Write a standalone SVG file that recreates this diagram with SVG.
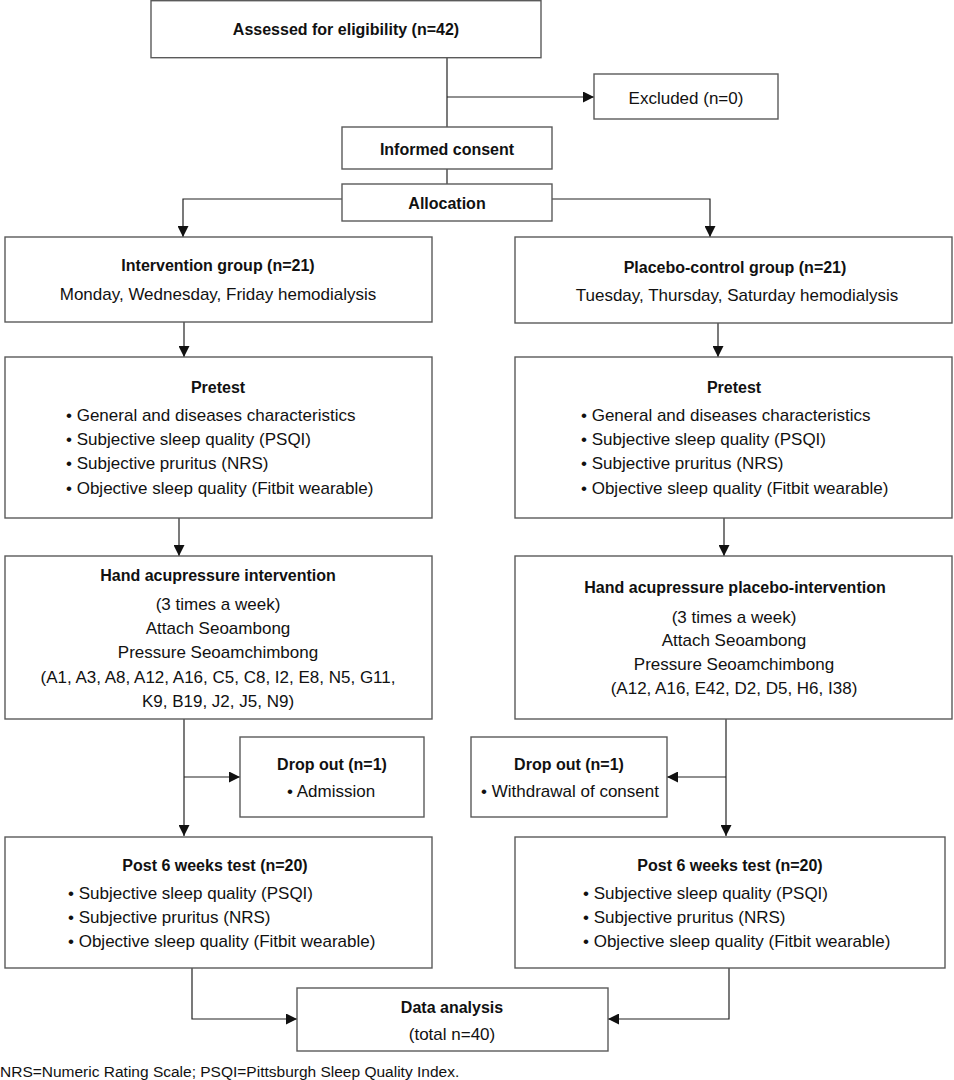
<svg xmlns="http://www.w3.org/2000/svg" width="954" height="1080" viewBox="0 0 954 1080">
<style>
  .box { fill: #ffffff; stroke: #5a5a5a; stroke-width: 1.4; }
  .t { font-family: "Liberation Sans", Arial, sans-serif; font-size: 17px; fill: #111; }
  .b { font-family: "Liberation Sans", Arial, sans-serif; font-size: 16px; font-weight: bold; fill: #111; }
  .c { text-anchor: middle; }
  .fn { font-family: "Liberation Sans", Arial, sans-serif; font-size: 15.5px; fill: #111; }
  .ln { fill: none; stroke: #222; stroke-width: 1.2; }
</style>
<defs>
  <marker id="ah" viewBox="0 0 10 10" refX="10" refY="5" markerWidth="11" markerHeight="11" markerUnits="userSpaceOnUse" orient="auto">
    <path d="M0,0 L10,5 L0,10 z" fill="#111"/>
  </marker>
</defs>
<rect width="954" height="1080" fill="#ffffff"/>

<g id="connectors">
  <path class="ln" d="M447,57 V127"/>
  <path class="ln" d="M447,97 H594" marker-end="url(#ah)"/>
  <path class="ln" d="M447,169 V184"/>
  <path class="ln" d="M342,199 H183 V237" marker-end="url(#ah)"/>
  <path class="ln" d="M552,199 H710 V237" marker-end="url(#ah)"/>
  <path class="ln" d="M184,322 V357" marker-end="url(#ah)"/>
  <path class="ln" d="M718,323 V357" marker-end="url(#ah)"/>
  <path class="ln" d="M179,518 V556" marker-end="url(#ah)"/>
  <path class="ln" d="M724,518 V556" marker-end="url(#ah)"/>
  <path class="ln" d="M184,719 V836" marker-end="url(#ah)"/>
  <path class="ln" d="M184,777 H240" marker-end="url(#ah)"/>
  <path class="ln" d="M726,719 V836" marker-end="url(#ah)"/>
  <path class="ln" d="M726,777 H667" marker-end="url(#ah)"/>
  <path class="ln" d="M192,968 V1019 H297" marker-end="url(#ah)"/>
  <path class="ln" d="M729,968 V1019 H608" marker-end="url(#ah)"/>
</g>

<g id="assessed">
  <rect class="box" x="151" y="0.7" width="390" height="57"/>
  <text class="b c" x="346" y="35">Assessed for eligibility (n=42)</text>
</g>
<g id="excluded">
  <rect class="box" x="594" y="74" width="184" height="45"/>
  <text class="t c" x="686" y="104">Excluded (n=0)</text>
</g>
<g id="consent">
  <rect class="box" x="342" y="127" width="210" height="42"/>
  <text class="b c" x="447" y="155">Informed consent</text>
</g>
<g id="allocation">
  <rect class="box" x="342" y="184" width="210" height="37"/>
  <text class="b c" x="447" y="209">Allocation</text>
</g>

<g id="intervention-group">
  <rect class="box" x="5" y="237" width="427" height="85"/>
  <text class="b c" x="218" y="271">Intervention group (n=21)</text>
  <text class="t c" x="218" y="300">Monday, Wednesday, Friday hemodialysis</text>
</g>
<g id="placebo-group">
  <rect class="box" x="515" y="237" width="437" height="86"/>
  <text class="b c" x="735" y="273">Placebo-control group (n=21)</text>
  <text class="t c" x="737" y="301">Tuesday, Thursday, Saturday hemodialysis</text>
</g>

<g id="pretest-left">
  <rect class="box" x="5" y="357" width="427" height="161"/>
  <text class="b c" x="218" y="393">Pretest</text>
  <text class="t" x="66" y="421">• General and diseases characteristics</text>
  <text class="t" x="66" y="445">• Subjective sleep quality (PSQI)</text>
  <text class="t" x="66" y="469">• Subjective pruritus (NRS)</text>
  <text class="t" x="66" y="494">• Objective sleep quality (Fitbit wearable)</text>
</g>
<g id="pretest-right">
  <rect class="box" x="515" y="357" width="437" height="161"/>
  <text class="b c" x="734" y="393">Pretest</text>
  <text class="t" x="581" y="421">• General and diseases characteristics</text>
  <text class="t" x="581" y="445">• Subjective sleep quality (PSQI)</text>
  <text class="t" x="581" y="469">• Subjective pruritus (NRS)</text>
  <text class="t" x="581" y="494">• Objective sleep quality (Fitbit wearable)</text>
</g>

<g id="intervention">
  <rect class="box" x="5" y="556" width="427" height="163"/>
  <text class="b c" x="218" y="581">Hand acupressure intervention</text>
  <text class="t c" x="218" y="610">(3 times a week)</text>
  <text class="t c" x="218" y="634">Attach Seoambong</text>
  <text class="t c" x="218" y="658">Pressure Seoamchimbong</text>
  <text class="t c" x="218" y="683">(A1, A3, A8, A12, A16, C5, C8, I2, E8, N5, G11,</text>
  <text class="t c" x="218" y="707">K9, B19, J2, J5, N9)</text>
</g>
<g id="placebo-intervention">
  <rect class="box" x="515" y="556" width="437" height="163"/>
  <text class="b c" x="735" y="593">Hand acupressure placebo-intervention</text>
  <text class="t c" x="734" y="623">(3 times a week)</text>
  <text class="t c" x="734" y="646">Attach Seoambong</text>
  <text class="t c" x="734" y="670">Pressure Seoamchimbong</text>
  <text class="t c" x="734" y="694">(A12, A16, E42, D2, D5, H6, I38)</text>
</g>

<g id="dropout-left">
  <rect class="box" x="240" y="737" width="184" height="80"/>
  <text class="b c" x="332" y="770">Drop out (n=1)</text>
  <text class="t" x="287" y="797">• Admission</text>
</g>
<g id="dropout-right">
  <rect class="box" x="471" y="737" width="196" height="80"/>
  <text class="b c" x="569" y="770">Drop out (n=1)</text>
  <text class="t" x="481" y="797">• Withdrawal of consent</text>
</g>

<g id="post-left">
  <rect class="box" x="5" y="837" width="427" height="131"/>
  <text class="b c" x="215" y="871">Post 6 weeks test (n=20)</text>
  <text class="t" x="68" y="899">• Subjective sleep quality (PSQI)</text>
  <text class="t" x="68" y="923">• Subjective pruritus (NRS)</text>
  <text class="t" x="68" y="947">• Objective sleep quality (Fitbit wearable)</text>
</g>
<g id="post-right">
  <rect class="box" x="515" y="837" width="430" height="131"/>
  <text class="b c" x="730" y="871">Post 6 weeks test (n=20)</text>
  <text class="t" x="583" y="899">• Subjective sleep quality (PSQI)</text>
  <text class="t" x="583" y="923">• Subjective pruritus (NRS)</text>
  <text class="t" x="583" y="947">• Objective sleep quality (Fitbit wearable)</text>
</g>

<g id="data-analysis">
  <rect class="box" x="297" y="988" width="311" height="63"/>
  <text class="b c" x="452" y="1013">Data analysis</text>
  <text class="t c" x="452" y="1040">(total n=40)</text>
</g>

<text class="fn" x="0" y="1077">NRS=Numeric Rating Scale; PSQI=Pittsburgh Sleep Quality Index.</text>
</svg>
